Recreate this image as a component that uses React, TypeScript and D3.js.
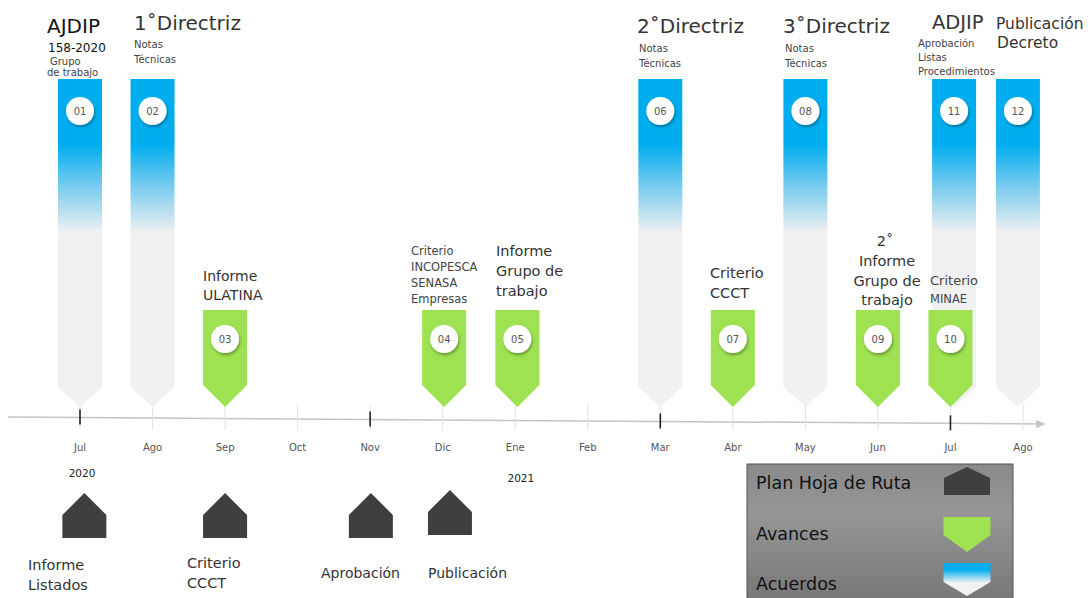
import React from "react";
import * as d3 from "d3";

// ---------- data ----------
const months = ["Jul", "Ago", "Sep", "Oct", "Nov", "Dic", "Ene", "Feb", "Mar", "Abr", "May", "Jun", "Jul", "Ago"];
const majorTickMonths = [0, 4, 8, 12];
const yearLabels = ["2020", "2021"];
const yearMonths = [0, 6.05];

const eventIds = ["01", "02", "03", "04", "05", "06", "07", "08", "09", "10", "11", "12"];
const eventMonths = [0, 1, 2, 5.02, 6.03, 8, 9, 10, 11, 12, 12.05, 12.93];
const eventTypes = ["acuerdo", "acuerdo", "avance", "avance", "avance", "acuerdo", "avance", "acuerdo", "avance", "avance", "acuerdo", "acuerdo"];
const eventTexts: string[][] = [
  ["AJDIP", "158-2020", "Grupo", "de trabajo"],
  ["1˚Directriz", "Notas", "Técnicas"],
  ["Informe", "ULATINA"],
  ["Criterio", "INCOPESCA", "SENASA", "Empresas"],
  ["Informe", "Grupo de", "trabajo"],
  ["2˚Directriz", "Notas", "Técnicas"],
  ["Criterio", "CCCT"],
  ["3˚Directriz", "Notas", "Técnicas"],
  ["2˚", "Informe", "Grupo de", "trabajo"],
  ["Criterio", "MINAE"],
  ["ADJIP", "Aprobación", "Listas", "Procedimientos"],
  ["Publicación", "Decreto"],
];

const planMonths = [0.06, 2, 4.01, 5.1];
const planTexts: string[][] = [["Informe", "Listados"], ["Criterio", "CCCT"], ["Aprobación"], ["Publicación"]];

const legendLabels = ["Plan Hoja de Ruta", "Avances", "Acuerdos"];

// ---------- layout (styles/positions) ----------
type Line = { x: number; y: number; s: number; c?: string; w?: number; a?: string };
const labelLayout: Line[][] = [
  [{ x: 47, y: 33, s: 20, c: "#111" }, { x: 48, y: 52, s: 12, c: "#111" }, { x: 50, y: 65, s: 10 }, { x: 47, y: 76, s: 10 }],
  [{ x: 134, y: 30, s: 20, c: "#333" }, { x: 134, y: 48, s: 10 }, { x: 134, y: 63, s: 10 }],
  [{ x: 203, y: 281, s: 14, c: "#333" }, { x: 203, y: 300, s: 14, c: "#333" }],
  [{ x: 411, y: 255, s: 11.5 }, { x: 411, y: 271, s: 11.5 }, { x: 411, y: 287, s: 11.5 }, { x: 411, y: 303, s: 11.5 }],
  [{ x: 496, y: 256, s: 14.5, c: "#333" }, { x: 496, y: 276, s: 14.5, c: "#333" }, { x: 496, y: 296, s: 14.5, c: "#333" }],
  [{ x: 637, y: 33, s: 20, c: "#333" }, { x: 639, y: 52, s: 10 }, { x: 639, y: 67, s: 10 }],
  [{ x: 710, y: 278, s: 14.5, c: "#333" }, { x: 710, y: 298, s: 14.5, c: "#333" }],
  [{ x: 783, y: 33, s: 20, c: "#333" }, { x: 785, y: 52, s: 10 }, { x: 785, y: 67, s: 10 }],
  [{ x: 885, y: 246, s: 14.5, c: "#333", a: "middle" }, { x: 887, y: 266, s: 14.5, c: "#333", a: "middle" }, { x: 887, y: 286, s: 14.5, c: "#333", a: "middle" }, { x: 887, y: 305, s: 14.5, c: "#333", a: "middle" }],
  [{ x: 930, y: 285, s: 13 }, { x: 930, y: 303, s: 11.5 }],
  [{ x: 932, y: 29, s: 19.5, c: "#333" }, { x: 918, y: 47, s: 10 }, { x: 918, y: 61, s: 10 }, { x: 918, y: 75, s: 10 }],
  [{ x: 996, y: 29, s: 15.5, c: "#333" }, { x: 997, y: 48, s: 15.5, c: "#333" }],
];
const planLayout: Line[][] = [
  [{ x: 28, y: 570, s: 14.5 }, { x: 28, y: 590, s: 14.5 }],
  [{ x: 187, y: 568, s: 14.5 }, { x: 187, y: 588, s: 14.5 }],
  [{ x: 321, y: 578, s: 14 }],
  [{ x: 428, y: 578, s: 14 }],
];

const FONT = "'DejaVu Sans', Verdana, sans-serif";
const BLUE = "#00AEEF";
const GREEN = "#9EE251";
const GREY = "#F1F1F1";
const DARK = "#3F3F3F";

export default function App() {
  const W = 1091, H = 598;
  const x = d3.scaleLinear().domain([0, 13]).range([80, 1023]);
  const axisY = d3.scaleLinear().domain([8, 1040]).range([417, 424]);
  const barW = 44;
  const tip = 407;

  const downShape = (cx: number, top: number, tipY: number, w: number, drop: number) => {
    const p = d3.path();
    p.moveTo(cx - w / 2, top);
    p.lineTo(cx + w / 2, top);
    p.lineTo(cx + w / 2, tipY - drop);
    p.lineTo(cx, tipY);
    p.lineTo(cx - w / 2, tipY - drop);
    p.closePath();
    return p.toString();
  };
  const upShape = (cx: number, apex: number, bottom: number, w: number, rise: number) => {
    const p = d3.path();
    p.moveTo(cx, apex);
    p.lineTo(cx + w / 2, apex + rise);
    p.lineTo(cx + w / 2, bottom);
    p.lineTo(cx - w / 2, bottom);
    p.lineTo(cx - w / 2, apex + rise);
    p.closePath();
    return p.toString();
  };

  const renderLines = (texts: string[], layout: Line[], key: string) =>
    texts.map((t, i) => {
      const l = layout[i];
      return (
        <text key={key + i} x={l.x} y={l.y} fontSize={l.s} fill={l.c || "#444"} fontWeight={l.w || 400}
          textAnchor={l.a || "start"} fontFamily={FONT}>{t}</text>
      );
    });

  // acuerdos drawn first, avances on top
  const order = d3.range(eventIds.length).sort((a, b) =>
    (eventTypes[a] === "acuerdo" ? 0 : 1) - (eventTypes[b] === "acuerdo" ? 0 : 1) || a - b);

  return (
    <svg width={W} height={H} style={{ position: "absolute", left: 0, top: 0, background: "#fff" }}>
      <defs>
        <linearGradient id="acuerdoGrad" x1="0" y1="0" x2="0" y2="1">
          <stop offset="0" stopColor={BLUE} />
          <stop offset="0.2" stopColor={BLUE} />
          <stop offset="0.33" stopColor="#7cccef" />
          <stop offset="0.47" stopColor={GREY} />
          <stop offset="1" stopColor={GREY} />
        </linearGradient>
        <linearGradient id="legendBlue" x1="0" y1="0" x2="0" y2="1">
          <stop offset="0" stopColor={BLUE} />
          <stop offset="0.2" stopColor={BLUE} />
          <stop offset="0.6" stopColor="#f2f2f2" />
          <stop offset="1" stopColor="#f2f2f2" />
        </linearGradient>
        <linearGradient id="legendBg" x1="0" y1="0" x2="0" y2="1">
          <stop offset="0" stopColor="#8a8a8a" />
          <stop offset="0.35" stopColor="#969696" />
          <stop offset="1" stopColor="#767676" />
        </linearGradient>
        <filter id="shadow" x="-50%" y="-50%" width="200%" height="200%">
          <feDropShadow dx="1" dy="2" stdDeviation="1.5" floodColor="#000" floodOpacity="0.35" />
        </filter>
      </defs>

      {/* axis line */}
      <line x1={8} y1={axisY(8)} x2={1040} y2={axisY(1040)} stroke="#c4c4c4" strokeWidth={1.5} />
      <path d={`M1036,${axisY(1036) - 4} L1046,${axisY(1046)} L1036,${axisY(1036) + 4}`} fill="#c4c4c4" />

      {/* faint month guides */}
      {months.map((m, i) => (
        <line key={"g" + i} x1={x(i)} x2={x(i)} y1={404} y2={430} stroke="#e2e2e2" strokeWidth={1} />
      ))}

      {/* bars + circles */}
      {order.map((i) => {
        const id = eventIds[i];
        const cx = x(eventMonths[i]);
        const isA = eventTypes[i] === "acuerdo";
        const top = isA ? 79 : 310;
        const cy = isA ? 111 : 339;
        return (
          <g key={"b" + id}>
            <path d={downShape(cx, top, tip, barW, isA ? 20 : 22)} fill={isA ? "url(#acuerdoGrad)" : GREEN} />
            <circle cx={cx} cy={cy} r={14} fill="#fff" filter="url(#shadow)" />
            <text x={cx} y={cy + 3.5} textAnchor="middle" fontSize={10} fill="#555" fontFamily={FONT}>{id}</text>
          </g>
        );
      })}

      {/* major ticks */}
      {majorTickMonths.map((m) => (
        <line key={"t" + m} x1={x(m)} x2={x(m)} y1={axisY(x(m)) - 8} y2={axisY(x(m)) + 7} stroke="#222" strokeWidth={1.6} />
      ))}

      {/* event labels */}
      {eventTexts.map((lines, i) => (
        <g key={"l" + i}>{renderLines(lines, labelLayout[i], "l" + i + "-")}</g>
      ))}

      {/* month labels */}
      {months.map((m, i) => (
        <text key={"m" + i} x={x(i)} y={451} textAnchor="middle" fontSize={10} fill="#555" fontFamily={FONT}>{m}</text>
      ))}
      {yearLabels.map((y, i) => (
        <text key={"y" + i} x={x(yearMonths[i]) + 2} y={i === 0 ? 477 : 482} textAnchor="middle" fontSize={10.5}
          fill="#222" fontFamily={FONT}>{y}</text>
      ))}

      {/* plan (houses) */}
      {planMonths.map((m, i) => {
        const cx = x(m);
        const off = i === 3 ? -3 : 0;
        return <path key={"h" + i} d={upShape(cx, 493 + off, 538 + off, 44, 22)} fill={DARK} />;
      })}
      {planTexts.map((lines, i) => (
        <g key={"p" + i}>{renderLines(lines, planLayout[i].map((l) => ({ ...l, c: "#333" })), "p" + i + "-")}</g>
      ))}

      {/* legend */}
      <rect x={747} y={464} width={266} height={140} fill="url(#legendBg)" stroke="#555" strokeWidth={1} />
      {legendLabels.map((t, i) => (
        <text key={"lg" + i} x={756} y={489 + i * 50.5} fontSize={17.5} fill="#111" fontFamily={FONT}>{t}</text>
      ))}
      <path d={upShape(967, 467, 495, 46, 11)} fill={DARK} />
      <path d={downShape(967, 517, 552, 47, 17)} fill={GREEN} />
      <path d={downShape(967, 563, 596, 47, 14)} fill="url(#legendBlue)" />
    </svg>
  );
}
